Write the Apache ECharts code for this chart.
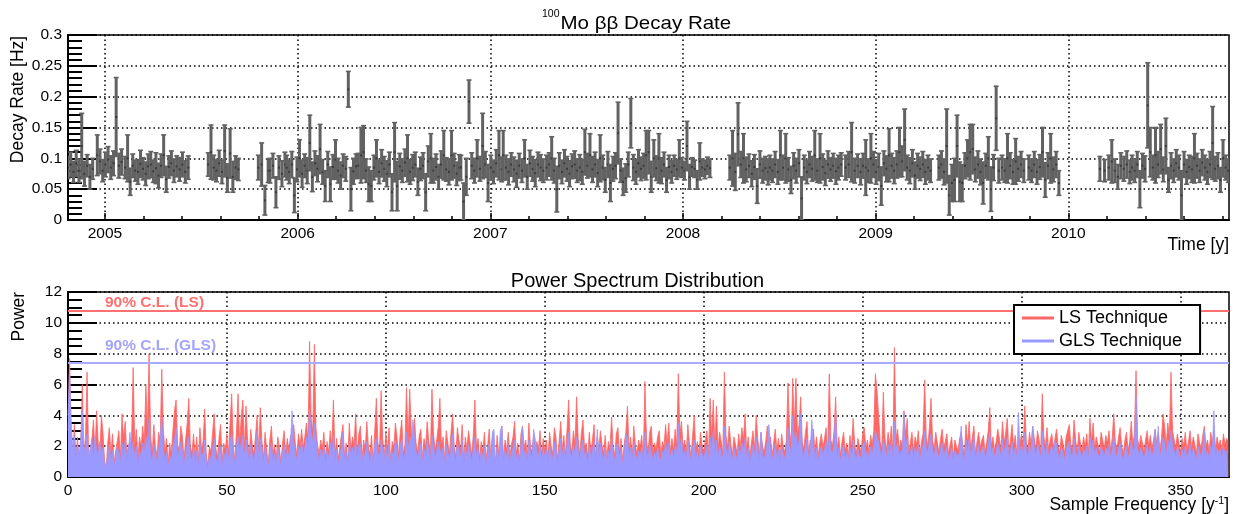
<!DOCTYPE html>
<html><head><meta charset="utf-8">
<script src="https://cdn.jsdelivr.net/npm/echarts@6/dist/echarts.min.js"></script>
<style>html,body{margin:0;padding:0;background:#fff}#c{width:1234px;height:514px}</style>
</head><body><div id="c"></div><script>
// ---------------- DATA ----------------
// Top panel: decay-rate runs (start/end in decimal years), rates [Hz] and errors [Hz] per run
const runStart = [2004.808, 2004.960, 2005.104, 2005.372, 2005.536, 2005.796, 2005.856, 2005.943, 2006.315, 2006.847, 2007.067, 2007.292, 2008.243, 2008.451, 2008.844, 2008.935, 2009.328, 2009.656, 2009.795, 2010.164, 2010.210, 2010.331];
const runEnd   = [2004.936, 2005.086, 2005.358, 2005.432, 2005.692, 2005.847, 2005.934, 2006.303, 2006.839, 2007.059, 2007.275, 2008.140, 2008.442, 2008.821, 2008.922, 2009.285, 2009.639, 2009.769, 2009.951, 2010.188, 2010.319, 2010.830];
const rateRuns = [
 [0.085,0.09,0.078,0.092,0.08,0.12,0.075,0.088,0.07,0.083],
 [0.105,0.095,0.08,0.09,0.098,0.085,0.092,0.167,0.088,0.094],
 [0.085,0.1,0.062,0.088,0.08,0.078,0.091,0.083,0.075,0.087,0.09,0.079,0.084,0.072,0.088,0.105,0.066,0.086,0.092,0.08],
 [0.087,0.082,0.09,0.078,0.085],
 [0.09,0.11,0.085,0.08,0.092,0.078,0.112,0.068,0.108,0.07,0.085,0.082],
 [0.085,0.09,0.032,0.08],
 [0.08,0.088,0.045,0.085,0.075,0.09],
 [0.085,0.078,0.09,0.04,0.082,0.1,0.075,0.088,0.08,0.125,0.07,0.092,0.083,0.115,0.078,0.055,0.09,0.058,0.086,0.098,0.08,0.072,0.088,0.083,0.212,0.05,0.079,0.087],
 [0.088,0.105,0.11,0.08,0.058,0.055,0.085,0.1,0.078,0.092,0.083,0.075,0.09,0.045,0.11,0.055,0.087,0.08,0.093,0.1,0.078,0.085,0.09,0.062,0.083,0.088,0.045,0.095,0.1,0.08,0.086,0.07,0.09,0.105,0.082,0.078,0.105,0.088,0.075,0.085],
 [0.085,0.03,0.07,0.192,0.088,0.08,0.1,0.083,0.12,0.09,0.06,0.085,0.078,0.092,0.105,0.082],
 [0.105,0.085,0.078,0.09,0.082,0.075,0.088,0.08,0.1,0.07,0.092,0.083,0.076,0.09,0.085,0.08],
 [0.085,0.09,0.1,0.08,0.05,0.088,0.078,0.092,0.083,0.075,0.087,0.09,0.08,0.085,0.078,0.11,0.088,0.105,0.082,0.09,0.076,0.1,0.085,0.065,0.09,0.06,0.083,0.088,0.141,0.08,0.062,0.068,0.09,0.157,0.085,0.078,0.092,0.083,0.088,0.105,0.11,0.07,0.1,0.084,0.1,0.08,0.09,0.065,0.086,0.078,0.088,0.082,0.1,0.085,0.08,0.12,0.07,0.086,0.083,0.065,0.095,0.085,0.082,0.088,0.084],
 [0.085,0.1,0.078,0.139,0.09,0.1,0.082,0.088,0.075,0.086,0.055,0.09,0.08,0.084,0.078],
 [0.085,0.08,0.09,0.078,0.105,0.085,0.1,0.082,0.065,0.088,0.08,0.092,0.035,0.085,0.078,0.09,0.083,0.105,0.08,0.1,0.086,0.076,0.09,0.082,0.088,0.079,0.085,0.09],
 [0.085,0.09,0.11,0.08,0.088,0.078],
 [0.088,0.085,0.08,0.1,0.09,0.078,0.086,0.055,0.092,0.083,0.105,0.088,0.08,0.09,0.11,0.095,0.13,0.085,0.08,0.092,0.072,0.088,0.083,0.09,0.078,0.085,0.08],
 [0.085,0.09,0.078,0.12,0.04,0.06,0.065,0.12,0.062,0.06,0.088,0.1,0.11,0.115,0.082,0.09,0.078,0.06,0.088,0.1,0.05,0.085,0.165,0.08],
 [0.085,0.08,0.1,0.088,0.078,0.095,0.083,0.09,0.08],
 [0.085,0.08,0.09,0.078,0.086,0.11,0.065,0.088,0.1,0.082,0.09,0.06],
 [0.083,0.08],
 [0.085,0.095,0.08,0.07,0.088,0.083,0.09,0.078],
 [0.085,0.08,0.09,0.05,0.088,0.083,0.186,0.11,0.085,0.105,0.09,0.115,0.082,0.12,0.065,0.088,0.08,0.092,0.085,0.04,0.09,0.078,0.086,0.082,0.1,0.088,0.08,0.093,0.085,0.078,0.09,0.125,0.083,0.088,0.065,0.1,0.085,0.08]
];
const errRuns = [
 [0.018,0.02,0.017,0.021,0.019,0.053,0.02,0.018,0.02,0.017],
 [0.033,0.02,0.018,0.02,0.021,0.019,0.02,0.064,0.02,0.021],
 [0.018,0.038,0.022,0.019,0.017,0.02,0.022,0.018,0.019,0.02,0.021,0.018,0.025,0.02,0.019,0.033,0.021,0.018,0.02,0.019],
 [0.017,0.019,0.02,0.018,0.019],
 [0.019,0.044,0.02,0.018,0.021,0.019,0.042,0.023,0.04,0.025,0.019,0.018],
 [0.02,0.035,0.024,0.019],
 [0.02,0.02,0.025,0.019,0.021,0.02],
 [0.02,0.019,0.021,0.028,0.02,0.03,0.022,0.019,0.021,0.045,0.024,0.02,0.021,0.04,0.02,0.025,0.021,0.028,0.02,0.032,0.02,0.022,0.019,0.02,0.029,0.035,0.021,0.02],
 [0.02,0.045,0.043,0.019,0.028,0.025,0.02,0.03,0.019,0.022,0.02,0.021,0.02,0.03,0.048,0.04,0.021,0.019,0.022,0.038,0.02,0.021,0.02,0.022,0.019,0.021,0.03,0.025,0.04,0.02,0.021,0.02,0.022,0.04,0.019,0.021,0.04,0.02,0.019,0.021],
 [0.02,0.03,0.03,0.035,0.021,0.02,0.03,0.02,0.053,0.021,0.03,0.02,0.019,0.022,0.04,0.02],
 [0.04,0.02,0.021,0.019,0.02,0.022,0.02,0.019,0.03,0.02,0.021,0.02,0.022,0.02,0.021,0.019],
 [0.02,0.019,0.035,0.02,0.037,0.021,0.019,0.022,0.02,0.021,0.02,0.022,0.019,0.021,0.02,0.037,0.02,0.035,0.021,0.02,0.022,0.038,0.02,0.02,0.021,0.03,0.02,0.021,0.05,0.019,0.022,0.023,0.02,0.04,0.021,0.02,0.022,0.019,0.02,0.04,0.035,0.025,0.03,0.02,0.04,0.021,0.02,0.02,0.019,0.018,0.017,0.016,0.03,0.016,0.015,0.04,0.02,0.015,0.014,0.015,0.03,0.014,0.015,0.014,0.015],
 [0.02,0.045,0.03,0.051,0.021,0.04,0.02,0.019,0.021,0.02,0.028,0.022,0.02,0.019,0.021],
 [0.02,0.019,0.021,0.02,0.04,0.02,0.04,0.019,0.022,0.021,0.02,0.022,0.035,0.02,0.019,0.021,0.02,0.04,0.019,0.04,0.021,0.02,0.022,0.019,0.02,0.021,0.02,0.019],
 [0.02,0.021,0.048,0.02,0.019,0.021],
 [0.02,0.045,0.019,0.04,0.021,0.02,0.022,0.031,0.02,0.021,0.043,0.02,0.021,0.022,0.04,0.025,0.05,0.02,0.021,0.022,0.022,0.02,0.019,0.021,0.02,0.02,0.019],
 [0.02,0.022,0.021,0.06,0.032,0.03,0.035,0.05,0.032,0.03,0.021,0.03,0.045,0.04,0.02,0.022,0.021,0.034,0.02,0.035,0.036,0.021,0.052,0.02],
 [0.02,0.019,0.04,0.021,0.02,0.037,0.02,0.021,0.019],
 [0.02,0.019,0.021,0.02,0.02,0.04,0.028,0.021,0.04,0.02,0.021,0.02],
 [0.02,0.018],
 [0.02,0.035,0.019,0.02,0.021,0.02,0.022,0.019],
 [0.02,0.019,0.021,0.03,0.02,0.021,0.069,0.04,0.02,0.045,0.021,0.04,0.02,0.045,0.02,0.021,0.019,0.022,0.02,0.04,0.021,0.02,0.019,0.021,0.04,0.02,0.019,0.021,0.02,0.02,0.021,0.059,0.02,0.021,0.02,0.03,0.02,0.019]
];
const yearTicks = [2005, 2006, 2007, 2008, 2009, 2010];

// Bottom panel: power spectra sampled every FREQ_STEP [1/y], starting at 0
const FREQ_STEP = 0.5;
const lsPower = [
 3.0,7.7,2.1,1.0,3.4,1.2,2.6,0.8,2.0,6.0,1.5,2.6,6.8,1.3,0.9,2.4,3.7,1.6,4.3,2.2,
 1.4,4.0,2.9,1.1,0.5,2.2,3.2,1.5,2.8,0.9,1.7,2.3,3.0,1.2,4.1,2.5,3.6,1.4,2.1,1.8,
 2.4,7.1,2.0,3.1,1.2,2.6,1.9,3.3,2.2,6.0,3.0,8.0,2.7,1.5,3.4,2.0,1.3,2.9,2.4,7.0,
 3.1,1.6,2.5,0.8,2.2,1.4,3.0,4.3,5.0,2.1,1.7,3.3,2.6,1.1,2.4,3.5,5.1,2.0,1.5,2.8,
 1.3,2.6,0.9,3.2,1.8,2.3,4.4,1.5,0.7,2.0,1.6,2.9,4.1,1.9,1.2,2.5,3.4,1.0,2.2,1.7,
 2.8,1.4,3.6,5.4,2.1,1.0,3.0,5.4,2.2,3.9,5.0,1.8,4.6,2.4,1.3,3.1,2.0,1.5,2.7,4.0,
 1.6,4.5,2.3,1.2,2.9,1.8,0.8,2.4,3.3,1.5,2.1,1.1,2.6,1.9,0.9,2.2,3.0,1.4,2.5,1.7,
 2.7,1.6,3.4,2.2,1.4,2.8,2.0,3.1,1.9,2.6,3.5,2.4,8.8,3.8,2.9,8.6,3.2,2.1,1.5,2.4,
 1.8,2.9,1.2,2.3,1.6,3.0,2.0,5.0,1.4,2.5,1.1,1.9,2.7,3.4,1.3,2.2,0.9,3.5,1.7,2.6,
 2.1,4.1,1.5,2.8,3.3,1.2,2.4,1.8,3.6,2.0,1.4,2.7,0.8,3.0,5.1,2.2,1.6,5.6,2.5,1.3,
 2.9,1.7,3.2,1.0,2.3,1.9,3.5,2.6,1.4,2.8,3.7,1.5,2.1,5.8,2.4,5.7,3.0,1.8,3.8,2.2,
 1.6,2.7,3.1,1.2,2.5,1.9,3.6,2.3,1.4,5.7,2.8,1.7,2.4,3.3,5.1,1.9,2.6,1.1,3.0,2.2,
 1.5,2.9,4.1,2.0,1.3,3.2,2.4,1.7,3.4,1.0,2.6,1.8,3.0,2.2,1.4,2.7,5.0,1.9,2.5,1.2,
 2.3,1.6,2.9,1.1,2.0,3.1,1.4,2.5,1.8,0.9,2.7,1.5,2.2,3.3,1.2,2.4,1.7,2.9,1.3,2.1,
 2.6,3.6,1.5,2.2,1.0,2.8,3.3,1.9,2.4,1.3,3.5,2.0,1.6,2.7,1.1,2.3,1.8,3.0,1.4,2.5,
 1.7,2.4,1.2,2.9,2.0,1.5,3.2,2.6,1.1,2.3,3.6,1.8,2.7,1.4,3.1,5.0,2.2,1.6,3.0,2.1,
 5.2,2.5,1.4,2.8,3.7,1.9,2.2,1.3,2.9,1.6,2.4,3.4,1.1,2.6,1.8,3.0,2.1,1.5,2.7,1.2,
 2.3,1.7,3.9,2.0,1.4,2.8,3.2,1.6,2.5,1.0,2.2,2.9,4.6,1.8,2.6,1.3,3.3,2.1,1.5,2.4,
 1.9,2.7,1.2,6.2,2.4,1.6,2.9,3.3,1.5,2.2,1.8,2.6,3.0,1.4,2.3,1.9,3.4,2.1,3.5,1.6,
 2.5,1.7,3.1,2.0,6.7,2.8,3.6,1.9,2.4,1.5,3.4,2.2,1.3,2.7,4.0,1.8,2.3,1.4,2.9,2.0,
 1.6,2.4,3.0,1.2,5.1,2.6,5.0,2.0,4.6,1.8,2.9,2.3,1.5,6.8,2.7,1.9,3.3,2.2,1.4,2.6,
 2.1,1.5,2.8,1.9,3.2,2.4,4.1,1.7,2.6,1.3,2.2,3.0,1.8,4.0,2.5,1.4,2.9,2.0,1.6,2.3,
 3.3,1.9,2.6,1.4,2.2,3.1,1.7,2.5,1.2,2.8,2.0,1.6,2.4,6.1,3.0,2.1,6.4,3.2,6.4,2.7,
 3.4,5.2,2.3,1.8,2.9,3.6,1.5,2.4,2.0,3.1,1.7,2.6,1.3,2.2,2.8,1.9,2.5,3.2,1.6,6.7,
 2.4,2.0,3.0,5.2,1.8,2.6,1.4,2.3,2.9,1.7,2.2,1.3,2.7,1.9,3.8,2.1,1.5,2.5,2.0,1.6,
 2.8,3.2,1.9,2.4,1.5,2.7,2.1,3.0,6.7,5.7,5.6,2.3,1.8,5.5,2.6,1.7,2.9,2.0,3.3,1.6,
 8.4,2.5,3.1,1.8,2.4,2.0,4.3,2.7,3.8,1.5,2.2,2.9,1.7,2.6,2.1,3.0,1.4,2.3,2.8,6.3,
 2.6,2.0,3.2,5.1,2.4,1.8,2.9,2.2,1.6,2.5,3.1,1.9,2.3,2.8,1.5,2.1,2.6,1.3,2.4,2.0,
 1.7,2.5,2.9,2.0,1.4,3.4,2.2,3.6,1.8,2.6,3.3,1.5,2.3,2.9,1.9,2.4,2.7,1.6,2.2,3.0,
 4.5,2.0,2.6,1.7,2.3,3.1,2.5,1.8,3.6,2.2,2.9,3.8,1.6,2.4,3.4,2.0,2.7,1.5,2.5,2.2,
 2.8,1.9,4.6,2.3,1.7,2.9,2.1,3.3,2.5,1.8,3.0,2.4,1.6,5.4,2.6,2.0,3.2,1.7,2.4,2.8,
 1.9,2.5,3.1,2.0,1.6,2.7,2.2,1.5,2.6,3.0,3.4,2.1,1.8,3.7,2.4,1.6,2.9,2.2,1.7,2.6,
 2.0,2.8,1.5,3.8,2.3,3.5,1.9,2.6,2.1,1.6,2.9,2.4,1.8,2.7,2.2,3.0,1.7,2.5,4.1,2.3,
 1.8,2.6,3.2,2.0,1.5,2.4,2.9,1.7,2.3,3.6,2.1,2.8,6.9,2.5,1.9,2.7,2.2,1.6,2.4,3.0,
 2.0,2.7,1.8,2.4,3.1,2.2,2.9,1.7,2.5,4.1,3.3,2.0,3.5,2.6,6.8,3.0,2.4,1.9,2.8,2.2,
 1.6,2.5,2.0,2.9,1.7,2.3,3.0,1.8,2.6,2.1,1.5,2.8,2.2,1.9,2.7,3.3,2.0,2.4,1.6,2.9,
 2.2,3.0,1.8,2.6,2.0,2.4,1.7,2.8,2.1,2.5,2.3
];
const glsPower = [
 4.0,7.0,3.6,1.8,2.6,1.2,2.2,1.5,2.4,4.3,1.6,2.0,2.8,1.3,1.9,2.5,1.1,2.7,1.7,1.4,
 2.3,1.5,1.9,0.8,0.6,1.4,2.1,1.0,1.7,0.7,1.3,2.0,1.6,0.9,2.2,1.4,2.4,1.1,1.8,2.9,
 1.5,2.3,1.2,2.0,0.8,1.7,1.3,2.2,1.6,2.6,1.9,3.8,1.4,1.0,2.1,1.5,0.9,1.8,2.5,3.9,
 1.8,1.1,1.6,0.6,1.4,1.0,2.0,2.4,3.2,1.3,1.2,2.3,1.7,0.8,1.5,2.1,2.6,1.4,1.0,1.9,
 0.9,1.7,0.6,2.2,1.3,1.5,2.4,1.0,0.5,1.4,1.1,1.8,2.5,1.2,0.9,1.7,2.0,0.7,1.6,1.2,
 1.9,1.0,2.3,2.8,1.5,0.8,2.0,2.6,1.6,2.2,2.7,1.3,2.4,1.7,1.0,2.1,1.4,1.1,1.8,3.0,
 1.2,2.5,1.7,0.9,2.0,1.3,0.6,1.6,2.2,1.1,1.5,0.8,1.9,1.4,0.7,1.6,2.1,1.0,1.8,1.3,
 2.2,4.3,2.3,1.6,1.0,2.0,1.5,2.3,1.4,1.9,2.6,1.8,4.4,2.9,2.2,3.5,2.5,1.6,1.1,1.8,
 1.3,2.0,0.9,1.7,1.2,2.2,1.5,2.7,1.0,1.8,0.8,1.4,1.9,2.9,1.0,1.6,0.7,2.3,1.3,1.9,
 1.5,2.4,1.1,2.0,2.2,0.9,1.7,1.3,2.3,1.5,1.0,1.9,0.6,2.1,2.5,1.6,1.2,2.4,1.8,1.0,
 2.0,1.2,2.2,0.8,1.6,1.4,2.4,1.9,1.0,2.0,2.5,1.1,1.5,2.9,1.7,2.6,2.1,3.7,2.5,1.6,
 1.2,1.9,2.2,0.9,1.8,1.4,2.4,1.7,1.0,2.7,2.0,1.3,1.7,2.3,2.4,1.4,1.9,0.8,2.1,1.6,
 1.1,2.0,2.8,1.5,1.0,2.2,1.8,1.2,2.4,0.8,1.9,1.3,2.1,1.6,1.0,1.9,2.6,1.4,1.8,0.9,
 1.7,1.2,2.0,0.8,1.5,2.2,1.0,2.9,3.1,0.7,1.9,1.1,3.0,3.3,0.9,1.7,1.3,2.1,1.0,1.5,
 1.9,2.4,1.1,1.6,0.8,2.0,3.2,1.4,1.7,1.0,2.4,1.5,1.2,3.1,3.1,1.7,1.3,2.1,1.0,1.8,
 1.3,1.8,0.9,2.1,1.5,1.1,2.3,1.9,0.8,1.7,2.5,1.3,2.0,1.0,2.2,2.9,1.6,1.2,2.1,1.5,
 2.6,1.8,1.0,2.0,2.4,1.4,1.6,0.9,2.1,1.2,1.7,2.3,0.8,3.1,1.3,2.2,1.5,1.1,1.9,0.9,
 1.7,1.2,2.5,1.5,1.0,2.0,2.2,1.2,1.8,0.7,1.6,2.8,2.6,1.3,1.9,1.0,2.3,1.5,1.1,1.7,
 1.4,1.9,0.9,2.9,1.7,1.2,2.1,2.2,1.1,1.6,1.3,1.9,2.0,1.0,1.7,1.4,2.3,1.5,2.2,1.2,
 1.8,1.2,2.0,1.5,3.5,2.0,2.5,1.4,1.7,1.1,2.4,1.6,1.0,1.9,2.4,1.3,1.7,1.0,2.0,1.5,
 1.2,1.7,2.1,0.9,2.6,1.8,3.0,1.5,2.4,1.3,2.0,1.6,1.1,3.3,1.9,1.4,2.3,1.6,1.0,1.9,
 1.5,1.1,2.0,1.4,2.2,1.7,2.5,1.2,1.9,0.9,1.6,2.1,1.3,2.6,1.8,1.0,2.9,1.4,1.2,1.6,
 2.3,3.4,1.9,1.0,1.6,2.2,1.2,1.8,0.9,2.0,1.5,1.2,1.7,3.2,2.1,1.5,4.0,2.3,2.9,1.9,
 2.4,4.1,1.7,1.3,2.0,2.5,1.1,1.7,3.7,2.2,1.2,1.9,1.0,1.6,2.0,1.4,1.8,2.3,1.2,3.1,
 1.8,1.5,2.1,4.3,1.3,1.9,1.0,1.7,2.1,1.2,1.6,1.0,1.9,1.4,2.4,1.5,1.1,1.8,1.4,1.2,
 2.0,2.3,1.4,1.7,1.1,2.0,1.5,2.1,3.0,2.6,2.3,1.7,1.3,2.5,1.9,1.2,2.1,1.5,2.3,1.2,
 3.6,1.8,2.2,1.3,1.7,1.5,4.2,1.9,2.5,1.1,1.6,2.0,1.2,1.9,1.5,2.1,1.0,1.7,2.0,3.0,
 1.9,1.5,2.3,2.8,1.7,1.3,2.1,1.6,1.2,1.8,2.2,1.4,1.7,2.0,1.1,1.5,1.9,1.0,1.7,1.5,
 1.2,1.8,3.3,1.5,1.0,2.4,1.6,2.5,1.3,1.9,2.7,1.1,1.7,2.1,1.4,1.8,2.0,1.2,1.6,2.2,
 2.9,1.5,1.9,1.2,1.7,2.2,1.8,1.3,2.5,1.6,2.0,2.6,1.1,1.7,2.3,1.4,1.9,1.1,4.2,1.6,
 2.0,1.4,2.9,1.7,1.2,2.1,1.5,3.3,1.8,1.3,2.2,1.7,1.2,3.0,1.9,1.4,2.3,1.2,1.7,2.0,
 1.4,2.4,2.1,1.5,1.1,1.9,1.6,1.0,1.8,2.1,2.3,1.5,1.3,2.5,1.7,1.1,2.0,1.6,1.2,1.8,
 1.5,2.0,1.1,2.6,1.7,2.4,1.4,1.9,1.5,1.2,2.0,1.7,1.3,1.9,1.6,2.1,1.2,1.8,2.7,1.6,
 1.3,1.9,2.2,1.4,1.1,1.7,2.0,1.2,1.6,2.4,1.5,2.0,5.2,1.8,1.4,1.9,1.6,1.2,1.7,2.1,
 1.4,1.9,1.3,1.7,3.1,1.6,3.3,1.2,1.8,2.6,2.2,1.4,2.4,1.9,3.0,2.1,1.7,1.3,2.0,1.6,
 1.1,1.8,1.4,2.0,1.2,1.6,2.1,1.3,1.9,1.5,1.0,2.0,1.6,1.3,1.9,3.0,1.4,1.7,1.1,2.0,
 1.6,4.3,1.3,1.9,1.5,1.8,1.2,2.0,1.5,1.7,1.6
];
const freqTicks = [0, 50, 100, 150, 200, 250, 300, 350];
const LS_CL = 10.78;   // 90% C.L. (LS)
const GLS_CL = 7.38;   // 90% C.L. (GLS)

// ---------------- BUILD ----------------
const T_MIN = 2004.808, T_MAX = 2010.834, F_MAX = 365.25;
const FONT = 'Liberation Sans, Arial, sans-serif';
const PT_COLOR = '#626262', LS_COLOR = '#ff6666', GLS_COLOR = '#9999ff';

const points = [];
runStart.forEach((s, r) => {
  const rs = rateRuns[r], es = errRuns[r], n = Math.min(rs.length, es.length);
  for (let i = 0; i < n; i++) {
    const t = n > 1 ? s + (runEnd[r] - s) * i / (n - 1) : s;
    points.push([t, rs[i], es[i]]);
  }
});
const minorYears = [];
yearTicks.forEach(y => { for (let k = 1; k <= 4; k++) minorYears.push(+(y + 0.2 * k).toFixed(1)); });
const minorFreq = [];
for (let f = 10; f <= 360; f += 10) if (f % 50 !== 0) minorFreq.push(f);
const lsData = lsPower.map((v, i) => [i * FREQ_STEP, v]);
const glsData = glsPower.map((v, i) => [i * FREQ_STEP, v]);

const dotted = { color: '#000', width: 1.5, type: [1.5, 3] };
const lbl = { fontFamily: FONT, fontSize: 15.5, color: '#000' };
const blackLine = { color: '#000', width: 2 };

function renderErr(params, api) {
  const t = api.value(0), v = api.value(1), e = api.value(2);
  const a = api.coord([t, v + e]), b = api.coord([t, Math.max(v - e, 0)]), c = api.coord([t, v]);
  const st = { stroke: PT_COLOR, lineWidth: 3 };
  const cap = { stroke: PT_COLOR, lineWidth: 1.6 };
  return { type: 'group', children: [
    { type: 'line', shape: { x1: a[0], y1: a[1], x2: b[0], y2: b[1] }, style: st },
    { type: 'line', shape: { x1: a[0] - 2.5, y1: a[1], x2: a[0] + 2.5, y2: a[1] }, style: cap },
    { type: 'line', shape: { x1: b[0] - 2.5, y1: b[1], x2: b[0] + 2.5, y2: b[1] }, style: cap },
    { type: 'rect', shape: { x: c[0] - 1, y: c[1] - 1, width: 2, height: 2 }, style: { fill: '#3a3a3a' } }
  ]};
}

const option = {
  animation: false,
  backgroundColor: '#fff',
  grid: [
    { left: 68, top: 35, width: 1161, height: 185, show: true, borderColor: '#000', borderWidth: 1.5 },
    { left: 68, top: 292, width: 1161, height: 185, show: true, borderColor: '#000', borderWidth: 1.5 }
  ],
  xAxis: [
    { gridIndex: 0, type: 'value', min: T_MIN, max: T_MAX, position: 'bottom',
      axisLine: { show: true, onZero: false, lineStyle: blackLine },
      axisTick: { show: true, inside: true, length: 7, customValues: yearTicks, lineStyle: { color: '#000', width: 1.5 } },
      axisLabel: { customValues: yearTicks, margin: 6, ...lbl, formatter: v => String(Math.round(v)) },
      splitLine: { show: true, lineStyle: dotted } },
    { gridIndex: 0, type: 'value', min: T_MIN, max: T_MAX, position: 'bottom',
      axisLine: { show: false },
      axisTick: { show: true, inside: true, length: 4, customValues: minorYears, lineStyle: { color: '#000', width: 1.5 } },
      axisLabel: { show: false }, splitLine: { show: false } },
    { gridIndex: 1, type: 'value', min: 0, max: F_MAX, position: 'bottom',
      axisLine: { show: true, onZero: false, lineStyle: blackLine },
      axisTick: { show: true, inside: true, length: 7, customValues: freqTicks, lineStyle: { color: '#000', width: 1.5 } },
      axisLabel: { customValues: freqTicks, margin: 6, ...lbl, formatter: v => String(Math.round(v)) },
      splitLine: { show: true, lineStyle: dotted } },
    { gridIndex: 1, type: 'value', min: 0, max: F_MAX, position: 'bottom',
      axisLine: { show: false },
      axisTick: { show: true, inside: true, length: 4, customValues: minorFreq, lineStyle: { color: '#000', width: 1.5 } },
      axisLabel: { show: false }, splitLine: { show: false } }
  ],
  yAxis: [
    { gridIndex: 0, type: 'value', min: 0, max: 0.3, interval: 0.05,
      axisLine: { show: true, onZero: false, lineStyle: blackLine },
      axisTick: { show: true, inside: true, length: 29, lineStyle: { color: '#000', width: 2 } },
      minorTick: { show: true, splitNumber: 5, length: 14, lineStyle: { color: '#000', width: 2 } },
      axisLabel: { margin: 6, ...lbl, formatter: v => String(+v.toFixed(2)) },
      splitLine: { show: true, lineStyle: dotted } },
    { gridIndex: 1, type: 'value', min: 0, max: 12, interval: 2,
      axisLine: { show: true, onZero: false, lineStyle: blackLine },
      axisTick: { show: true, inside: true, length: 29, lineStyle: { color: '#000', width: 2 } },
      minorTick: { show: true, splitNumber: 4, length: 14, lineStyle: { color: '#000', width: 2 } },
      axisLabel: { margin: 6, ...lbl },
      splitLine: { show: true, lineStyle: dotted } }
  ],
  legend: {
    z: 50, left: 1014, top: 305, orient: 'vertical', icon: 'rect', itemWidth: 32, itemHeight: 3, itemGap: 5,
    padding: [4, 18, 4, 8], backgroundColor: '#fff', borderColor: '#000', borderWidth: 2, borderRadius: 0,
    textStyle: { fontFamily: FONT, fontSize: 18, color: '#000' },
    data: ['LS Technique', 'GLS Technique']
  },
  series: [
    { type: 'custom', name: 'rate', xAxisIndex: 0, yAxisIndex: 0, data: points, renderItem: renderErr,
      encode: { x: 0, y: 1 }, clip: true, z: 3 },
    { type: 'line', name: 'LS Technique', xAxisIndex: 2, yAxisIndex: 1, data: lsData, color: LS_COLOR,
      showSymbol: false, symbol: 'none', clip: true, lineStyle: { color: LS_COLOR, width: 0.8 },
      areaStyle: { color: LS_COLOR, opacity: 1 }, z: 2,
      markLine: { silent: true, symbol: 'none', animation: false, label: { show: false },
        lineStyle: { color: '#ff7070', width: 2, type: 'solid' }, data: [{ yAxis: LS_CL }] } },
    { type: 'line', name: 'GLS Technique', xAxisIndex: 2, yAxisIndex: 1, data: glsData, color: GLS_COLOR,
      showSymbol: false, symbol: 'none', clip: true, lineStyle: { color: GLS_COLOR, width: 0.8 },
      areaStyle: { color: GLS_COLOR, opacity: 1 }, z: 3,
      markLine: { silent: true, symbol: 'none', animation: false, label: { show: false },
        lineStyle: { color: '#aaaaff', width: 2, type: 'solid' }, data: [{ yAxis: GLS_CL }] } }
  ],
  graphic: [
    { type: 'text', z: 100, x: 560.5, y: 24, scaleX: 1.08, style: { text: 'Mo \u03b2\u03b2 Decay Rate', fontFamily: FONT, fontSize: 19, fill: '#000', align: 'left', verticalAlign: 'middle' } },
    { type: 'text', z: 100, x: 559.5, y: 14.5, style: { text: '100', fontFamily: FONT, fontSize: 10.5, fill: '#000', align: 'right', verticalAlign: 'middle' } },
    { type: 'text', z: 100, x: 637.5, y: 281, style: { text: 'Power Spectrum Distribution', fontFamily: FONT, fontSize: 20, fill: '#000', align: 'center', verticalAlign: 'middle' } },
    { type: 'text', z: 100, x: 1229, y: 245, style: { text: 'Time [y]', fontFamily: FONT, fontSize: 17.5, fill: '#000', align: 'right', verticalAlign: 'middle' } },
    { type: 'text', z: 100, x: 1229, y: 505, style: { text: '{n|Sample Frequency [y}{s|-1}{n|]}', fill: '#000', align: 'right', verticalAlign: 'middle',
        rich: { n: { fontFamily: FONT, fontSize: 17.5, fill: '#000' }, s: { fontFamily: FONT, fontSize: 10.5, fill: '#000', verticalAlign: 'top', padding: [0, 0, 6, 0] } } } },
    { type: 'text', z: 100, x: 18.5, y: 99.5, rotation: Math.PI / 2, style: { text: 'Decay Rate [Hz]', fontFamily: FONT, fontSize: 17.5, fill: '#000', align: 'center', verticalAlign: 'middle' } },
    { type: 'text', z: 100, x: 19.5, y: 316.7, rotation: Math.PI / 2, style: { text: 'Power', fontFamily: FONT, fontSize: 17.5, fill: '#000', align: 'center', verticalAlign: 'middle' } },
    { type: 'text', z: 100, x: 105, y: 302.3, style: { text: '90% C.L. (LS)', fontFamily: FONT, fontSize: 15.5, fontWeight: 'bold', fill: '#ff7070', align: 'left', verticalAlign: 'middle' } },
    { type: 'text', z: 100, x: 105, y: 346, style: { text: '90% C.L. (GLS)', fontFamily: FONT, fontSize: 15.5, fontWeight: 'bold', fill: '#a4a4ff', align: 'left', verticalAlign: 'middle' } }
  ]
};
const chart = echarts.init(document.getElementById('c'), null, { renderer: 'canvas' });
chart.setOption(option);
</script></body></html>
